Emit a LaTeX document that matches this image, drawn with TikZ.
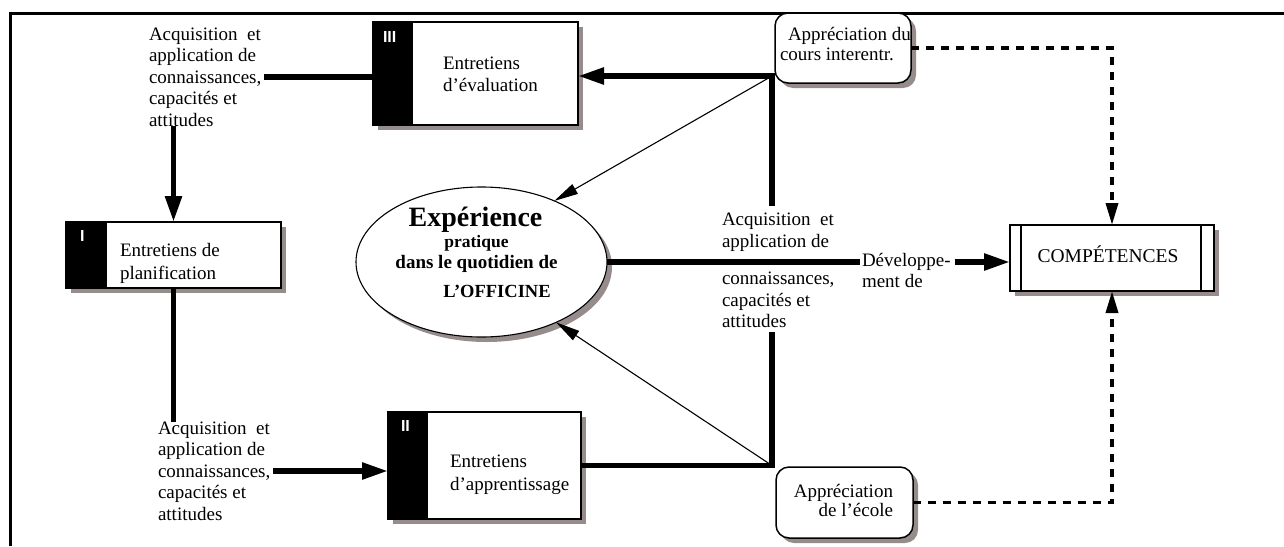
\documentclass[tikz,border=0pt]{standalone}
\usepackage{fontspec}
\setmainfont{Liberation Serif}
\setsansfont{Liberation Sans}
\usetikzlibrary{arrows.meta,shadows,shapes.geometric,calc}

\definecolor{shade}{RGB}{150,140,140}

\begin{document}
\begin{tikzpicture}[x=1pt,y=-1pt,
  every node/.style={inner sep=0pt, outer sep=0pt},
  txt/.style={font=\fontsize{19}{21.5}\selectfont, align=left},
  boxtxt/.style={font=\fontsize{19}{22.5}\selectfont, align=left},
  numlbl/.style={font=\sffamily\bfseries\fontsize{16}{16}\selectfont, text=white, anchor=north west},
  shadowed/.style={drop shadow={shadow xshift=5pt, shadow yshift=-5pt, fill=shade, opacity=1}},
  stage/.style={draw, line width=1.5pt, fill=white, shadowed, rectangle},
  roundbox/.style={draw, line width=1.5pt, fill=white, shadowed, rectangle, rounded corners=13pt},
  heavy/.style={line width=5.5pt},
  heavyarrow/.style={line width=5.5pt, -{Triangle[length=26pt,width=16pt]}},
  thinarrow/.style={line width=1.1pt, -{Triangle[length=24pt,width=11pt]}},
  dasharrow/.style={line width=3.5pt, dash pattern=on 8pt off 7pt, -{Triangle[length=22pt,width=12pt]}},
]
\useasboundingbox (0,0) rectangle (1284,546);

% outer frame
\draw[line width=3pt] (10,546) -- (10,13.5) -- (1284,13.5);

% interview boxes with black band
\node[stage, minimum width=205pt, minimum height=103pt] (b3) at (475.5,73.5) {};
\fill (b3.north west) rectangle ([xshift=40pt]b3.south west);
\node[numlbl] (b3n) at ([xshift=10pt,yshift=-9pt]b3.north west) {III};
\node[boxtxt, anchor=west] (b3t) at (443,74.5) {Entretiens\\d’évaluation};

\node[stage, minimum width=215pt, minimum height=66pt] (b1) at (173.5,255) {};
\fill (b1.north west) rectangle ([xshift=41pt]b1.south west);
\node[numlbl] (b1n) at ([xshift=14pt,yshift=-8pt]b1.north west) {I};
\node[boxtxt, anchor=west] (b1t) at (120,263.5) {Entretiens de\\planification};

\node[stage, minimum width=193pt, minimum height=107pt] (b2) at (484.5,465.5) {};
\fill (b2.north west) rectangle ([xshift=40pt]b2.south west);
\node[numlbl] (b2n) at ([xshift=13pt,yshift=-8pt]b2.north west) {II};
\node[boxtxt, anchor=west] (b2t) at (450,475) {Entretiens\\d’apprentissage};

% free text labels
\node[txt, anchor=west] (acqTL) at (149,77) {Acquisition~ et\\application de\\connaissances,\\capacités et\\attitudes};
\node[txt, anchor=west] (acqBL) at (158,471) {Acquisition~ et\\application de\\connaissances,\\capacités et\\attitudes};
\node[txt, anchor=west] (acqMa) at (722,232) {Acquisition~ et\\application de};
\node[txt, anchor=west] (acqMb) at (722,300) {connaissances,\\capacités et\\attitudes};
\node[txt, anchor=west, font=\fontsize{19}{21}\selectfont] (devel) at (862,270) {Développe-\\ment de};

% central ellipse
\node[draw, ellipse, line width=1.1pt, fill=white, shadowed, minimum width=251pt, minimum height=150pt] (exp) at (481.5,262) {};
\node[font=\bfseries\fontsize{28}{28}\selectfont] (expA) at (475.5,220) {Expérience};
\node[font=\bfseries\fontsize{17.5}{17.5}\selectfont] (expB) at (476.5,243) {pratique};
\node[font=\bfseries\fontsize{19}{19}\selectfont] (expC) at (476.5,264) {dans le quotidien de};
\node[font=\bfseries\fontsize{18.5}{18.5}\selectfont] (expD) at (497,291) {L’OFFICINE};

% competences
\node[draw, line width=1.5pt, fill=white, shadowed, minimum width=204pt, minimum height=66pt] (comp) at (1112,258) {};
\draw[line width=1.5pt] ([xshift=11pt]comp.north west) -- ([xshift=11pt]comp.south west);
\draw[line width=1.5pt] ([xshift=-13pt]comp.north east) -- ([xshift=-13pt]comp.south east);
\node[font=\fontsize{19.5}{19.5}\selectfont] (compt) at (1108,254) {COMPÉTENCES};

% appreciation boxes
\node[roundbox, minimum width=136pt, minimum height=70pt] (appC) at (843,48) {};
\node[txt, anchor=west, font=\fontsize{19}{20}\selectfont] (appCt) at (780,44) {\hspace*{8pt}Appréciation du\\cours interentr.};
\node[roundbox, minimum width=137pt, minimum height=71pt] (appE) at (844.5,502.5) {};
\node[txt, anchor=east, align=right, font=\fontsize{19}{19.5}\selectfont] (appEt) at (893,500.5) {Appréciation\\de l’école};

% junction points
\coordinate (ctop) at (772,76);
\coordinate (cbot) at (772,465.5);

% heavy connectors
\draw[heavy] ([xshift=3pt]acqTL.east) -- (acqTL.east -| b3.west);
\draw[heavyarrow] (acqTL.south -| b1.north) -- (b1.north);
\draw[heavy] (b1.south) -- (b1.south |- acqBL.north);
\draw[heavyarrow, shorten <=3pt] (acqBL.east) -- (acqBL.east -| b2.west);
\draw[heavy] (b2.east) -- (cbot) -- ([yshift=-4pt]cbot |- acqMb.south);
\draw[heavyarrow] ([yshift=7pt]acqMa.north -| ctop) -- (ctop) -- (ctop -| b3.east);
\draw[heavy] (exp.east) -- ([xshift=-2pt]exp.east -| devel.west);
\draw[heavyarrow] ([xshift=4pt]devel.east |- exp.east) -- (comp.west |- exp.east);

% thin connectors into the ellipse
\draw[thinarrow] (ctop) -- (exp.40);
\draw[thinarrow] (cbot) -- (exp.-39);

% dashed connectors into the competences box
\draw[dasharrow] (appC.east) -| (comp.north);
\draw[dasharrow] (appE.east) -| (comp.south);
\end{tikzpicture}
\end{document}
